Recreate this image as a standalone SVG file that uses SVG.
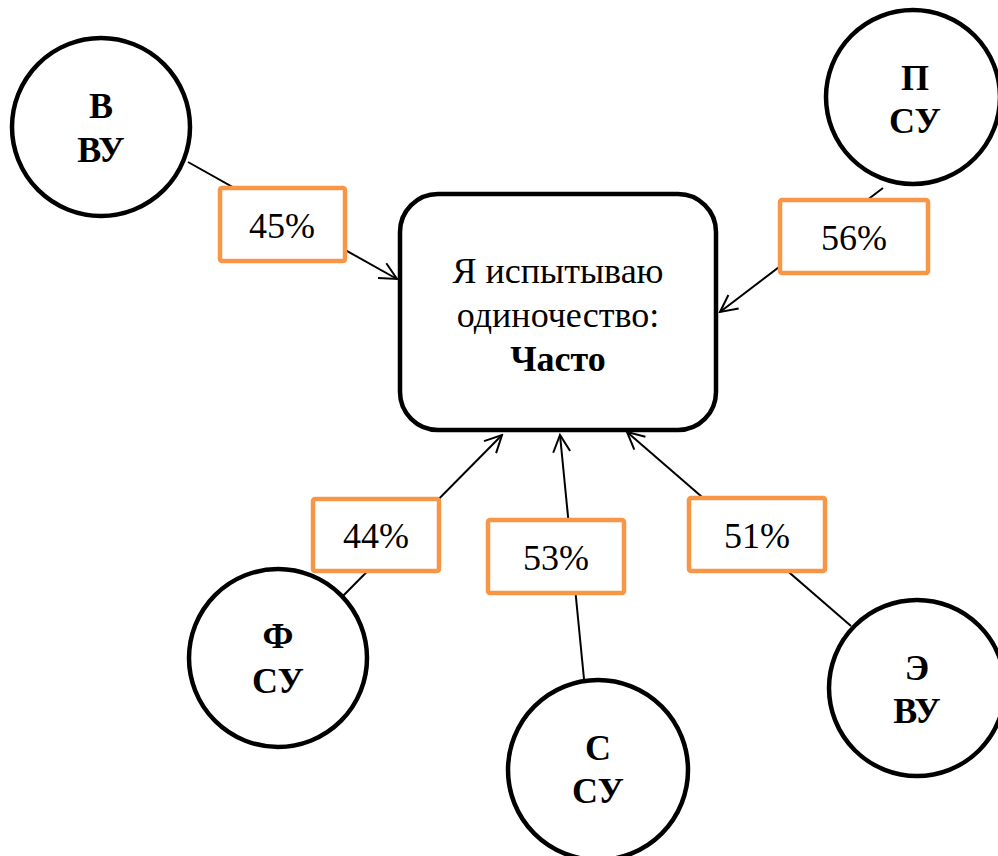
<svg xmlns="http://www.w3.org/2000/svg" width="998" height="856" viewBox="0 0 998 856">
<style>
.circ{fill:#fff;stroke:#000;stroke-width:4.5}
.lbl{fill:#fff;stroke:#F79646;stroke-width:4.5}
.conn{stroke:#000;stroke-width:2;fill:none}
.ct{font-family:"Liberation Serif","Times New Roman",serif;font-size:36px;font-weight:bold;text-anchor:middle;fill:#000}
.pt{font-family:"Liberation Serif","Times New Roman",serif;font-size:36px;text-anchor:middle;fill:#000}
</style>
<defs>
<marker id="arr" markerUnits="userSpaceOnUse" markerWidth="20" markerHeight="20" refX="18" refY="10" orient="auto" viewBox="0 0 20 20">
<path d="M1,1.5 L18,10 L1,18.5" fill="none" stroke="#000" stroke-width="2"/>
</marker>
</defs>
<rect width="998" height="856" fill="#fff"/>
<g id="connectors">
<line class="conn" x1="188" y1="162" x2="397" y2="279" marker-end="url(#arr)"/>
<line class="conn" x1="883" y1="188" x2="720" y2="312" marker-end="url(#arr)"/>
<line class="conn" x1="339" y1="600" x2="502" y2="435" marker-end="url(#arr)"/>
<line class="conn" x1="584" y1="679" x2="560" y2="435" marker-end="url(#arr)"/>
<line class="conn" x1="851" y1="626" x2="627" y2="432" marker-end="url(#arr)"/>
</g>
<g id="label-45">
<rect class="lbl" x="220" y="188" width="125" height="73" rx="2"/>
<text class="pt" x="282" y="238">45%</text>
</g>
<g id="label-56">
<rect class="lbl" x="780" y="200" width="148" height="73" rx="2"/>
<text class="pt" x="854" y="250">56%</text>
</g>
<g id="label-44">
<rect class="lbl" x="313" y="499" width="126" height="72" rx="2"/>
<text class="pt" x="376" y="548">44%</text>
</g>
<g id="label-53">
<rect class="lbl" x="488" y="520" width="136" height="73" rx="2"/>
<text class="pt" x="556" y="570">53%</text>
</g>
<g id="label-51">
<rect class="lbl" x="689" y="498" width="136" height="73" rx="2"/>
<text class="pt" x="757" y="548">51%</text>
</g>
<g id="center">
<rect x="400" y="194" width="316" height="236" rx="38" fill="#fff" stroke="#000" stroke-width="4.5"/>
<text class="pt" x="558" y="283">Я испытываю</text>
<text class="pt" x="558" y="327">одиночество:</text>
<text class="ct" x="558" y="371">Часто</text>
</g>
<g id="node-v">
<circle class="circ" cx="101" cy="127" r="89"/>
<text class="ct" x="101" y="118">В</text>
<text class="ct" x="101" y="162">ВУ</text>
</g>
<g id="node-p">
<circle class="circ" cx="913" cy="97" r="87"/>
<text class="ct" x="915" y="90">П</text>
<text class="ct" x="915" y="133">СУ</text>
</g>
<g id="node-f">
<circle class="circ" cx="278" cy="658" r="89"/>
<text class="ct" x="278" y="648">Ф</text>
<text class="ct" x="278" y="693">СУ</text>
</g>
<g id="node-s">
<circle class="circ" cx="598" cy="770" r="90"/>
<text class="ct" x="598" y="760">С</text>
<text class="ct" x="598" y="803">СУ</text>
</g>
<g id="node-e">
<circle class="circ" cx="917" cy="688" r="88"/>
<text class="ct" x="917" y="680">Э</text>
<text class="ct" x="917" y="723">ВУ</text>
</g>
</svg>
